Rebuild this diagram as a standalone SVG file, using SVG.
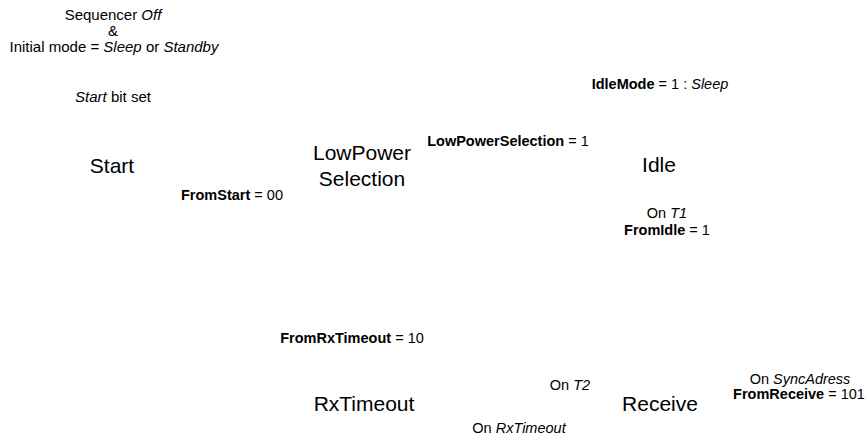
<svg xmlns="http://www.w3.org/2000/svg" width="866" height="438" viewBox="0 0 866 438">
<style>
text{font-family:"Liberation Sans",Arial,sans-serif;fill:#000;text-anchor:middle}
.s{font-size:14.5px}
.t{font-size:15px}
.n{font-size:21px}
.b{font-weight:bold}
.i{font-style:italic}
</style>
<rect width="866" height="438" fill="#fff"/>
<g id="Start">
<text class="n" x="112" y="173">Start</text>
</g>
<g id="LowPowerSelection">
<text class="n" x="362" y="160">LowPower</text>
<text class="n" x="362" y="186">Selection</text>
</g>
<g id="Idle">
<text class="n" x="659" y="172">Idle</text>
</g>
<g id="RxTimeout">
<text class="n" x="364" y="411">RxTimeout</text>
</g>
<g id="Receive">
<text class="n" x="660" y="411">Receive</text>
</g>
<g id="connectors">
<text class="t" x="113" y="20">Sequencer <tspan class="i">Off</tspan></text>
<text class="t" x="113" y="36">&amp;</text>
<text class="t" x="114" y="52">Initial mode = <tspan class="i">Sleep</tspan> or <tspan class="i">Standby</tspan></text>
<text class="t" x="113" y="102"><tspan class="i">Start</tspan> bit set</text>
<text class="s" x="232" y="200"><tspan class="b">FromStart</tspan> = 00</text>
<text class="s" x="508" y="146"><tspan class="b">LowPowerSelection</tspan> = 1</text>
<text class="s" x="660" y="89"><tspan class="b">IdleMode</tspan> = 1 : <tspan class="i">Sleep</tspan></text>
<text class="s" x="667" y="218">On <tspan class="i">T1</tspan></text>
<text class="s" x="667" y="235"><tspan class="b">FromIdle</tspan> = 1</text>
<text class="s" x="352" y="343"><tspan class="b">FromRxTimeout</tspan> = 10</text>
<text class="s" x="570" y="390">On <tspan class="i">T2</tspan></text>
<text class="s" x="519" y="433">On <tspan class="i">RxTimeout</tspan></text>
<text class="s" x="800" y="384">On <tspan class="i">SyncAdress</tspan></text>
<text class="s" x="799" y="399"><tspan class="b">FromReceive</tspan> = 101</text>
</g>
</svg>
